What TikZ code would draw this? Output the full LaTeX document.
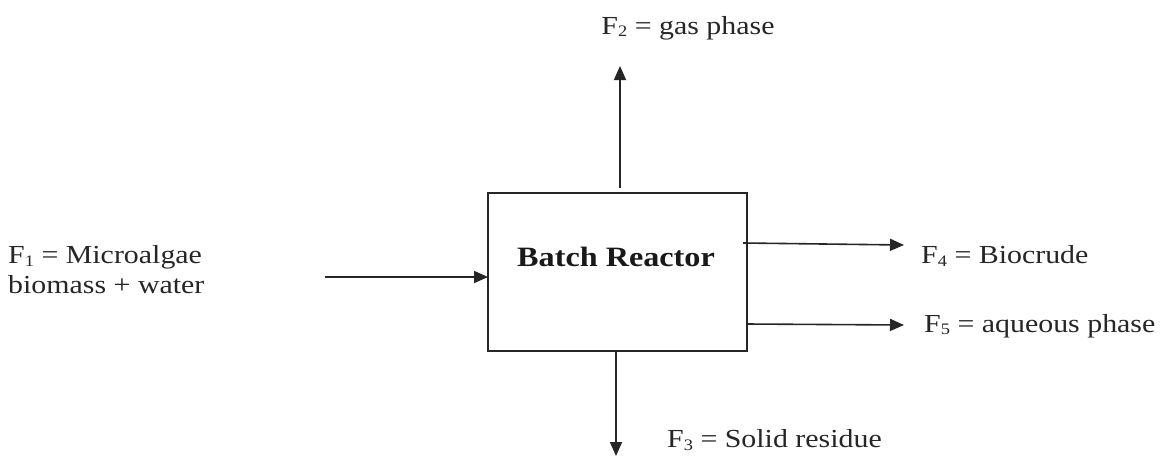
\documentclass[tikz,border=0pt]{standalone}
\usepackage{fontspec}
\setmainfont[FakeStretch=1.15]{Liberation Serif}
\usetikzlibrary{arrows.meta}
\tikzset{
  flow/.style={line width=1.6pt, draw=black!85, -{Triangle[length=14pt,width=12pt]}},
  lbl/.style={font=\fontsize{26}{30}\selectfont, text=black!85, inner sep=0pt},
  reactor/.style={draw=black!85, line width=1.5pt, minimum width=259pt, minimum height=158pt, inner sep=0pt}
}
\newcommand{\subd}[1]{\raisebox{-2.5pt}{\fontsize{16}{16}\selectfont #1}}
\begin{document}
\begin{tikzpicture}[x=1pt,y=-1pt]
\useasboundingbox[fill=white] (0,0) rectangle (1162,456);
\node[reactor] (box) at (617.5,272) {};
\node[font=\fontsize{28}{32}\selectfont\bfseries, text=black!90, inner sep=0pt] (title) at (616,257) {Batch Reactor};
\node[lbl, anchor=west, align=left] (f1) at (8,270) {F\subd{1} = Microalgae\\biomass + water};
\node[lbl] (f2) at (688,28) {F\subd{2} = gas phase};
\node[lbl, anchor=west] (f3) at (667,440) {F\subd{3} = Solid residue};
\node[lbl, anchor=west] (f4) at (921,256) {F\subd{4} = Biocrude};
\node[lbl, anchor=west] (f5) at (924,326) {F\subd{5} = aqueous phase};
\coordinate (inS) at (325,277);
\coordinate (inE) at (488,277);
\coordinate (upS) at (620,188);
\coordinate (upE) at (620,66);
\coordinate (dnS) at (616,351);
\coordinate (dnE) at (616,456);
\coordinate (b4S) at (743,243);
\coordinate (b4E) at (904,245);
\coordinate (b5S) at (747,324);
\coordinate (b5E) at (904,325);
\draw[flow] (inS) -- (inE);
\draw[flow] (upS) -- (upE);
\draw[flow] (dnS) -- (dnE);
\draw[flow] (b4S) -- (b4E);
\draw[flow] (b5S) -- (b5E);
\end{tikzpicture}
\end{document}
